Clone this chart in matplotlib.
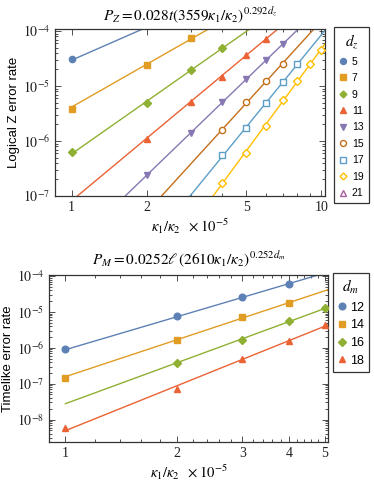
import numpy as np
import matplotlib
matplotlib.use("Agg")
import matplotlib.pyplot as plt
from matplotlib.ticker import FixedLocator, NullFormatter, FixedFormatter
from matplotlib.lines import Line2D

plt.rcParams['mathtext.fontset'] = 'stix'
plt.rcParams['font.family'] = ['Liberation Sans', 'DejaVu Sans']

# ---------------- Data: top panel (Logical Z error rate) ----------------
dz_list = [5, 7, 9, 11, 13, 15, 17, 19, 21]
z_x = {
    5: [1],
    7: [1, 2, 3],
    9: [1, 2, 3, 4],
    11: [2, 3, 4, 5, 6],
    13: [2, 3, 4, 5, 6, 7],
    15: [4, 5, 6, 7],
    17: [4, 5, 6, 7, 8],
    19: [4, 5, 6, 7, 8, 9, 10],
    21: [],
}
z_y = {
    5: [3.06e-5],
    7: [3.9e-6, 2.45e-5, 7.5e-5],
    9: [6.2e-7, 5.0e-6, 1.93e-5, 4.93e-5],
    11: [1.07e-6, 5.2e-6, 1.46e-5, 3.63e-5, 7.1e-5],
    13: [2.42e-7, 1.4e-6, 5.08e-6, 1.32e-5, 3.02e-5, 5.75e-5],
    15: [1.56e-6, 5.2e-6, 1.25e-5, 2.56e-5],
    17: [5.46e-7, 1.75e-6, 5.0e-6, 1.18e-5, 2.48e-5],
    19: [1.75e-7, 6.1e-7, 1.9e-6, 5.46e-6, 1.23e-5, 2.56e-5, 4.6e-5],
    21: [],
}
z_colors = ['#5E81B5', '#E19C24', '#8FB032', '#EB6235', '#8778B3',
            '#C56E1A', '#5D9EC7', '#FFBF00', '#A5609D']
z_markers = ['o', 's', 'D', '^', 'v', 'o', 's', 'D', '^']
z_filled = [True, True, True, True, True, False, False, False, False]

# ---------------- Data: bottom panel (Timelike error rate) ----------------
dm_list = [12, 14, 16, 18]
m_x = {
    12: [1, 2, 3, 4],
    14: [1, 2, 3, 4],
    16: [2, 3, 4, 5],
    18: [1, 2, 3, 4, 5],
}
m_y = {
    12: [9.3e-7, 7.7e-6, 2.57e-5, 5.9e-5],
    14: [1.45e-7, 1.63e-6, 7.0e-6, 1.83e-5],
    16: [3.7e-7, 1.67e-6, 5.5e-6, 1.29e-5],
    18: [5.8e-9, 7.2e-8, 4.9e-7, 1.53e-6, 4.4e-6],
}
m_colors = ['#5E81B5', '#E19C24', '#8FB032', '#EB6235']
m_markers = ['o', 's', 'D', '^']


def joint_fit(dlist, xs, ys):
    # log P = a + b*d + (c + e*d) * log x  (least squares over all points)
    rows, rhs = [], []
    for d in dlist:
        for x, y in zip(xs[d], ys[d]):
            lx = np.log10(x)
            rows.append([1.0, d, lx, d * lx])
            rhs.append(np.log10(y))
    coef, *_ = np.linalg.lstsq(np.array(rows), np.array(rhs), rcond=None)
    return coef


def fit_curve(coef, d, xgrid):
    a, b, c, e = coef
    lx = np.log10(xgrid)
    return 10 ** (a + b * d + (c + e * d) * lx)


W, H = 374, 482
fig = plt.figure(figsize=(W / 100, H / 100), dpi=100)

serif = ['Liberation Serif', 'DejaVu Serif']
frame_col = '#333333'


def style_axes(ax, xmajor, xminor, ymin_exp, ymax_exp):
    ax.set_xscale('log')
    ax.set_yscale('log')
    ax.xaxis.set_major_locator(FixedLocator(xmajor))
    ax.xaxis.set_major_formatter(FixedFormatter([str(v) for v in xmajor]))
    ax.xaxis.set_minor_locator(FixedLocator(xminor))
    ax.xaxis.set_minor_formatter(NullFormatter())
    majors = [10.0 ** k for k in range(ymin_exp, ymax_exp + 1)]
    ax.yaxis.set_major_locator(FixedLocator(majors))
    ax.yaxis.set_major_formatter(FixedFormatter([r'$10^{%d}$' % k for k in range(ymin_exp, ymax_exp + 1)]))
    minors = [m * 10.0 ** k for k in range(ymin_exp - 1, ymax_exp + 1) for m in range(2, 10)]
    ax.yaxis.set_minor_locator(FixedLocator(minors))
    ax.yaxis.set_minor_formatter(NullFormatter())
    ax.tick_params(which='both', direction='in', top=True, right=True,
                   colors=frame_col, labelcolor='#222222', labelsize=10, width=0.6)
    ax.tick_params(which='major', length=4)
    ax.tick_params(which='minor', length=2)
    for lab in ax.get_xticklabels() + ax.get_yticklabels():
        lab.set_family(serif)
    for s in ax.spines.values():
        s.set_color(frame_col)
        s.set_linewidth(0.9)


# ---------------- Top panel ----------------
ax1 = fig.add_axes([55 / W, 1 - 196 / H, 270 / W, 167 / H])
xlim1 = (0.859, 10.33)
coef_z = joint_fit(dz_list, z_x, z_y)
xg1 = np.logspace(0, np.log10(xlim1[1]), 200)
handles1 = []
for d, col, mk, fl in zip(dz_list, z_colors, z_markers, z_filled):
    if len(z_x[d]) > 0:
        ax1.plot(xg1, fit_curve(coef_z, d, xg1), color=col, lw=1.0, zorder=2)
        ax1.plot(z_x[d], z_y[d], linestyle='none', marker=mk,
                 ms=4.5 if mk != 'D' else 3.7,
                 mfc=col if fl else 'white', mec=col, mew=1.0, zorder=3)
    handles1.append(Line2D([], [], linestyle='none', marker=mk,
                           ms=4.3 if mk != 'D' else 3.5,
                           mfc=col if fl else 'white', mec=col, mew=1.0))
ax1.set_xlim(*xlim1)
ax1.set_ylim(1e-7, 1.09e-4)
style_axes(ax1, [1, 2, 5, 10], [3, 4, 6, 7, 8, 9], -7, -4)
ax1.set_title(r'$P_Z = 0.028t(3559\kappa_1/\kappa_2)^{0.292d_z}$', fontsize=11, pad=6)
ax1.set_xlabel(r'$\kappa_1/\kappa_2\ \ \times 10^{-5}$', fontsize=10.5, labelpad=2)
ax1.set_ylabel('Logical Z error rate', fontsize=9.5, labelpad=2)

leg1 = fig.legend(handles1, [str(d) for d in dz_list], loc='upper left',
                  bbox_to_anchor=(334 / W, 1 - 27 / H), frameon=True, fancybox=False,
                  edgecolor='black', fontsize=7.5, title=r'$d_z$', title_fontsize=11,
                  handlelength=0.8, handletextpad=0.4, borderpad=0.5,
                  labelspacing=0.62, borderaxespad=0)
leg1.get_frame().set_linewidth(0.9)

# ---------------- Bottom panel ----------------
ax2 = fig.add_axes([49 / W, 1 - 442 / H, 279 / W, 167 / H])
xlim2 = (0.903, 5.1)
coef_m = joint_fit(dm_list, m_x, m_y)
xg2 = np.logspace(0, np.log10(xlim2[1]), 200)
handles2 = []
for d, col, mk in zip(dm_list, m_colors, m_markers):
    ax2.plot(xg2, fit_curve(coef_m, d, xg2), color=col, lw=1.0, zorder=2)
    ax2.plot(m_x[d], m_y[d], linestyle='none', marker=mk,
             ms=4.8 if mk != 'D' else 3.8, mfc=col, mec=col, zorder=3)
    handles2.append(Line2D([], [], linestyle='none', marker=mk,
                           ms=4.8 if mk != 'D' else 3.8, mfc=col, mec=col))
ax2.set_xlim(*xlim2)
ax2.set_ylim(2.37e-9, 1.07e-4)
style_axes(ax2, [1, 2, 3, 4, 5],
           [1.2, 1.4, 1.6, 1.8, 2.2, 2.4, 2.6, 2.8, 3.2, 3.4, 3.6, 3.8, 4.2, 4.4, 4.6, 4.8],
           -8, -4)
ax2.set_title(r'$P_M = 0.0252\ell\,(2610\kappa_1/\kappa_2)^{0.252d_m}$', fontsize=11, pad=8)
ax2.set_xlabel(r'$\kappa_1/\kappa_2\ \ \times 10^{-5}$', fontsize=10.5, labelpad=2)
ax2.set_ylabel('Timelike error rate', fontsize=9.5, labelpad=2)

leg2 = fig.legend(handles2, [str(d) for d in dm_list], loc='upper left',
                  bbox_to_anchor=(333 / W, 1 - 273 / H), frameon=True, fancybox=False,
                  edgecolor='black', fontsize=9, title=r'$d_m$', title_fontsize=11,
                  handlelength=0.6, handletextpad=0.35, borderpad=0.4,
                  labelspacing=0.45, borderaxespad=0)
leg2.get_frame().set_linewidth(0.9)

fig.savefig('out.png', dpi=100)
